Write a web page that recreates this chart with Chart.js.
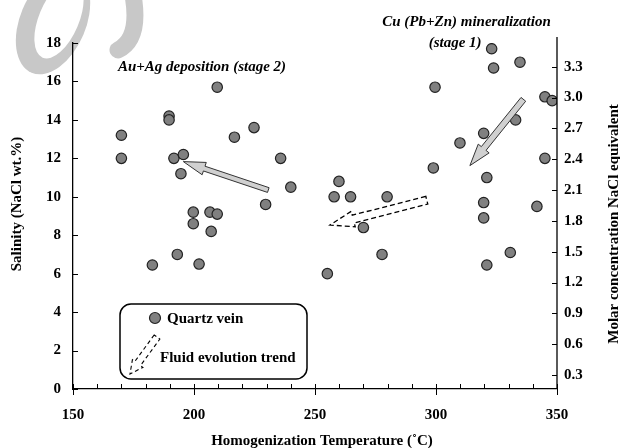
<!DOCTYPE html>
<html>
<head>
<meta charset="utf-8">
<script src="https://cdn.jsdelivr.net/npm/chart.js@4.4.0/dist/chart.umd.min.js"></script>
<style>
html, body { margin: 0; padding: 0; background: #fff; }
</style>
</head>
<body>
<canvas id="grafico" width="620" height="448"></canvas>
<script>
// datos
const temperatura = [170, 170, 189.7, 189.7, 209.6, 191.7, 195.6, 194.6, 216.7, 224.8, 235.8, 240, 229.6,
    199.7, 206.6, 209.6, 199.7, 207.1, 193.1, 202.1, 182.8,
    323, 323.8, 334.7, 299.6, 345, 348, 332.9, 319.7, 309.9, 345, 298.9, 321,
    259.9, 257.9, 264.7, 279.8, 319.7, 341.7, 319.7, 270, 277.7, 255.1, 321, 330.7];
const salinidad = [13.2, 12.0, 14.2, 14.0, 15.7, 12.0, 12.2, 11.2, 13.1, 13.6, 12.0, 10.5, 9.6,
    9.2, 9.2, 9.1, 8.6, 8.2, 7.0, 6.5, 6.45,
    17.7, 16.7, 17.0, 15.7, 15.2, 15.0, 14.0, 13.3, 12.8, 12.0, 11.5, 11.0,
    10.8, 10.0, 10.0, 10.0, 9.7, 9.5, 8.9, 8.4, 7.0, 6.0, 6.45, 7.1];
const ticksMolar = [0.3, 0.6, 0.9, 1.2, 1.5, 1.8, 2.1, 2.4, 2.7, 3.0, 3.3];

// flechas de tendencia (cola -> punta, en unidades de los ejes)
const flechaEtapa2 = { desde: [230.7, 10.35], hasta: [195.6, 11.83] };
const flechaEtapa1 = { desde: [336.1, 15.07], hasta: [314.0, 11.62] };
const flechaFluido = { desde: [296.2, 9.82], hasta: [256.2, 8.53] };

const serif = "'Liberation Serif', 'Times New Roman', serif";

function flecha(ctx, x1, y1, x2, y2, anchoCuerpo, anchoPunta, largoPunta) {
    const len = Math.hypot(x2 - x1, y2 - y1);
    const ux = (x2 - x1) / len, uy = (y2 - y1) / len;
    const nx = -uy, ny = ux;
    const bx = x2 - ux * largoPunta, by = y2 - uy * largoPunta;
    const s = anchoCuerpo / 2, h = anchoPunta / 2;
    ctx.beginPath();
    ctx.moveTo(x1 + nx * s, y1 + ny * s);
    ctx.lineTo(bx + nx * s, by + ny * s);
    ctx.lineTo(bx + nx * h, by + ny * h);
    ctx.lineTo(x2, y2);
    ctx.lineTo(bx - nx * h, by - ny * h);
    ctx.lineTo(bx - nx * s, by - ny * s);
    ctx.lineTo(x1 - nx * s, y1 - ny * s);
    ctx.closePath();
}

const decoracion = {
    id: 'decoracion',
    beforeDraw(chart) {
        const ctx = chart.ctx;
        ctx.save();
        ctx.fillStyle = '#c8c8c8';
        ctx.beginPath();
        ctx.ellipse(53, 22, 33, 55, 0.4, 0, Math.PI * 2);
        ctx.fill();
        ctx.fillStyle = '#fff';
        ctx.beginPath();
        ctx.ellipse(59, 19, 20, 42, 0.4, 0, Math.PI * 2);
        ctx.fill();
        ctx.strokeStyle = '#c8c8c8';
        ctx.lineWidth = 17;
        ctx.lineCap = 'round';
        ctx.beginPath();
        ctx.moveTo(132, -10);
        ctx.quadraticCurveTo(142, 38, 118, 50);
        ctx.stroke();
        ctx.restore();
    },
    afterDraw(chart) {
        const ctx = chart.ctx;
        const x = chart.scales.x, y = chart.scales.y, y2 = chart.scales.y2;
        const area = chart.chartArea;
        ctx.save();

        // marcas de los ejes
        ctx.strokeStyle = '#000';
        ctx.lineWidth = 1;
        ctx.beginPath();
        for (let v = 150; v <= 350; v += 10) {
            const px = Math.round(x.getPixelForValue(v)) + 0.5;
            ctx.moveTo(px, area.bottom - 5);
            ctx.lineTo(px, v % 50 === 0 ? area.bottom + 6 : area.bottom);
        }
        for (let v = 0; v <= 18; v += 2) {
            const py = Math.round(y.getPixelForValue(v)) + 0.5;
            ctx.moveTo(area.left, py);
            ctx.lineTo(area.left + 5, py);
        }
        ticksMolar.forEach(v => {
            const py = Math.round(y2.getPixelForValue(v)) + 0.5;
            ctx.moveTo(area.right - 5, py);
            ctx.lineTo(area.right, py);
        });
        ctx.stroke();
        ctx.lineWidth = 1.3;
        ctx.beginPath();
        ctx.moveTo(area.right, area.top - 6);
        ctx.lineTo(area.right, area.bottom);
        ctx.stroke();

        // flechas
        const p = (par) => [x.getPixelForValue(par[0]), y.getPixelForValue(par[1])];
        [[flechaEtapa2, 5, 13, 22], [flechaEtapa1, 6, 14, 22]].forEach(([f, a, b, c]) => {
            const [x1, y1] = p(f.desde), [x2, y2p] = p(f.hasta);
            flecha(ctx, x1, y1, x2, y2p, a, b, c);
            ctx.fillStyle = '#d0d0d0';
            ctx.fill();
            ctx.strokeStyle = '#333';
            ctx.lineWidth = 1;
            ctx.stroke();
        });
        {
            const [x1, y1] = p(flechaFluido.desde), [x2, y2p] = p(flechaFluido.hasta);
            flecha(ctx, x1, y1, x2, y2p, 8, 16, 24);
            ctx.setLineDash([5, 3]);
            ctx.strokeStyle = '#000';
            ctx.lineWidth = 1.3;
            ctx.stroke();
            ctx.setLineDash([]);
        }

        // textos de las etapas
        ctx.fillStyle = '#000';
        ctx.font = 'italic bold 15px ' + serif;
        ctx.textAlign = 'center';
        ctx.textBaseline = 'middle';
        ctx.fillText('Au+Ag deposition (stage 2)', x.getPixelForValue(203.3), y.getPixelForValue(16.75));
        ctx.fillText('Cu (Pb+Zn) mineralization', x.getPixelForValue(312.6), y.getPixelForValue(19.1));
        ctx.fillText('(stage 1)', x.getPixelForValue(307.9), y.getPixelForValue(18.0));

        // titulos de ejes
        ctx.font = 'bold 15px ' + serif;
        ctx.fillText('Homogenization Temperature (\u02DAC)', 322, 441);
        ctx.save();
        ctx.translate(17, 204);
        ctx.rotate(-Math.PI / 2);
        ctx.fillText('Salinity (NaCl wt.%)', 0, 0);
        ctx.restore();
        ctx.save();
        ctx.translate(614, 224);
        ctx.rotate(-Math.PI / 2);
        ctx.fillText('Molar concentration NaCl equivalent', 0, 0);
        ctx.restore();

        // leyenda
        const lx = 120, ly = 304, lw = 187, lh = 75, r = 11;
        ctx.beginPath();
        ctx.moveTo(lx + r, ly);
        ctx.arcTo(lx + lw, ly, lx + lw, ly + lh, r);
        ctx.arcTo(lx + lw, ly + lh, lx, ly + lh, r);
        ctx.arcTo(lx, ly + lh, lx, ly, r);
        ctx.arcTo(lx, ly, lx + lw, ly, r);
        ctx.closePath();
        ctx.fillStyle = '#fff';
        ctx.fill();
        ctx.strokeStyle = '#000';
        ctx.lineWidth = 1.5;
        ctx.stroke();
        ctx.beginPath();
        ctx.arc(155, 318, 5.5, 0, Math.PI * 2);
        ctx.fillStyle = '#808080';
        ctx.fill();
        ctx.strokeStyle = '#222';
        ctx.lineWidth = 1.2;
        ctx.stroke();
        flecha(ctx, 157, 337, 130, 374, 7, 13, 13);
        ctx.setLineDash([4, 3]);
        ctx.lineWidth = 1.1;
        ctx.strokeStyle = '#000';
        ctx.stroke();
        ctx.setLineDash([]);
        ctx.fillStyle = '#000';
        ctx.textAlign = 'left';
        ctx.font = 'bold 15px ' + serif;
        ctx.fillText('Quartz vein', 167, 319);
        ctx.fillText('Fluid evolution trend', 160, 358);
        ctx.restore();
    }
};

const puntos = temperatura.map((t, i) => ({ x: t, y: salinidad[i] }));
const ctx = document.getElementById('grafico').getContext('2d');

window.graficoGenerado = new Chart(ctx, {
    type: 'scatter',
    data: {
        datasets: [{
            label: 'Quartz vein',
            data: puntos,
            yAxisID: 'y',
            pointRadius: 5.2,
            backgroundColor: '#808080',
            borderColor: '#222',
            borderWidth: 1.2
        }]
    },
    options: {
        responsive: false,
        animation: false,
        layout: { padding: { top: 43, left: 0, right: 0, bottom: 0 } },
        plugins: {
            legend: { display: false },
            tooltip: { enabled: false }
        },
        scales: {
            x: {
                type: 'linear',
                min: 150,
                max: 350,
                afterFit: (s) => { s.height = 59; },
                grid: { display: false, drawTicks: false },
                border: { display: true, color: '#000', width: 1.3 },
                ticks: { stepSize: 50, padding: 17, color: '#000', font: { family: serif, size: 15, weight: 'bold' } }
            },
            y: {
                position: 'left',
                min: 0,
                max: 18,
                afterFit: (s) => { s.width = 73; },
                grid: { display: false, drawTicks: false },
                border: { display: true, color: '#000', width: 1.3 },
                ticks: { stepSize: 2, padding: 12, color: '#000', font: { family: serif, size: 15, weight: 'bold' } }
            },
            y2: {
                display: true,
                position: 'right',
                min: 0.164,
                max: 3.531,
                afterFit: (s) => { s.width = 63; },
                afterBuildTicks: (s) => { s.ticks = ticksMolar.map(v => ({ value: v })); },
                grid: { display: false, drawTicks: false },
                border: { display: false },
                ticks: {
                    padding: 7, color: '#000', font: { family: serif, size: 15, weight: 'bold' },
                    callback: (v) => Number(v).toFixed(1)
                }
            }
        }
    },
    plugins: [decoracion]
});
</script>
</body>
</html>
